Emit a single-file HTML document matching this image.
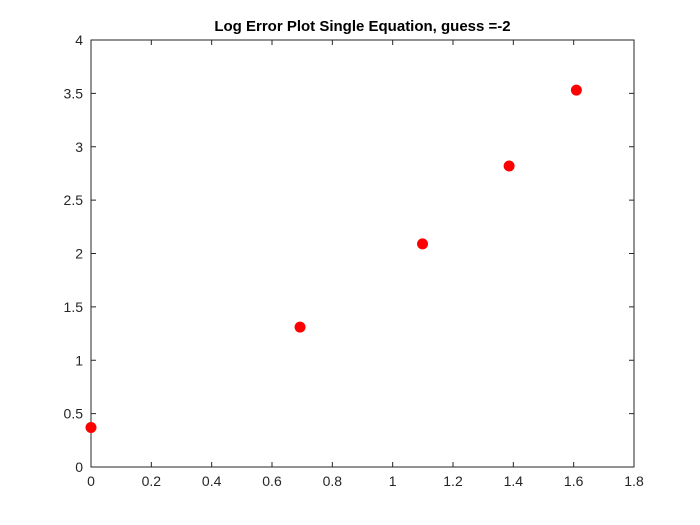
<!DOCTYPE html>
<html><head><meta charset="utf-8"><style>
html,body{margin:0;padding:0;background:#fff;}
svg{display:block;font-family:"Liberation Sans",Arial,sans-serif;}
</style></head><body>
<svg id="chart" width="700" height="525" viewBox="0 0 700 525">
<rect x="0" y="0" width="700" height="525" fill="#fff"/>
<rect x="91" y="40" width="543" height="427" fill="#fff" stroke="#262626" stroke-width="1"/>
<text x="362.5" y="31" text-anchor="middle" font-size="15" font-weight="bold" fill="#000">Log Error Plot Single Equation, guess =-2</text>
<g id="axes"></g>
<g id="points"></g>
</svg>
<script>
const xTicks = [0,0.2,0.4,0.6,0.8,1,1.2,1.4,1.6,1.8];
const xTickLabels = ["0","0.2","0.4","0.6","0.8","1","1.2","1.4","1.6","1.8"];
const yTicks = [0,0.5,1,1.5,2,2.5,3,3.5,4];
const yTickLabels = ["0","0.5","1","1.5","2","2.5","3","3.5","4"];
const xValues = [0,0.693,1.099,1.386,1.609];
const yValues = [0.37,1.31,2.09,2.82,3.53];

const L=91,R=634,T=40,B=467;
const sx=v=>L+(v-0)/(1.8-0)*(R-L);
const sy=v=>B-(v-0)/(4-0)*(B-T);
const NS="http://www.w3.org/2000/svg";
const axes=document.getElementById('axes');
const pts=document.getElementById('points');
function mk(tag,attrs,parent){const e=document.createElementNS(NS,tag);for(const k in attrs)e.setAttribute(k,attrs[k]);parent.appendChild(e);return e;}
xTicks.forEach((v,i)=>{
  const x=sx(v);
  const t1=mk('line',{x1:x,x2:x,y1:B,y2:B-5,stroke:'#262626'},axes);
  
  
  const t2=mk('line',{x1:x,x2:x,y1:T,y2:T+5,stroke:'#262626'},axes);
  
  
  const tx=mk('text',{x:x,y:B+19,'text-anchor':'middle','font-size':'14',fill:'#262626'},axes);
  tx.textContent=xTickLabels[i];
  
  
});
yTicks.forEach((v,i)=>{
  const y=sy(v);
  const t1=mk('line',{x1:L,x2:L+5,y1:y,y2:y,stroke:'#262626'},axes);
  
  
  const t2=mk('line',{x1:R,x2:R-5,y1:y,y2:y,stroke:'#262626'},axes);
  
  
  const tx=mk('text',{x:L-8,y:y+5,'text-anchor':'end','font-size':'14',fill:'#262626'},axes);
  tx.textContent=yTickLabels[i];
  
  
});
xValues.forEach((v,i)=>{
  const c=mk('circle',{cx:sx(v),cy:sy(yValues[i]),r:5.5,fill:'#ff0000'},pts);
  
  
});
</script>
</body></html>
